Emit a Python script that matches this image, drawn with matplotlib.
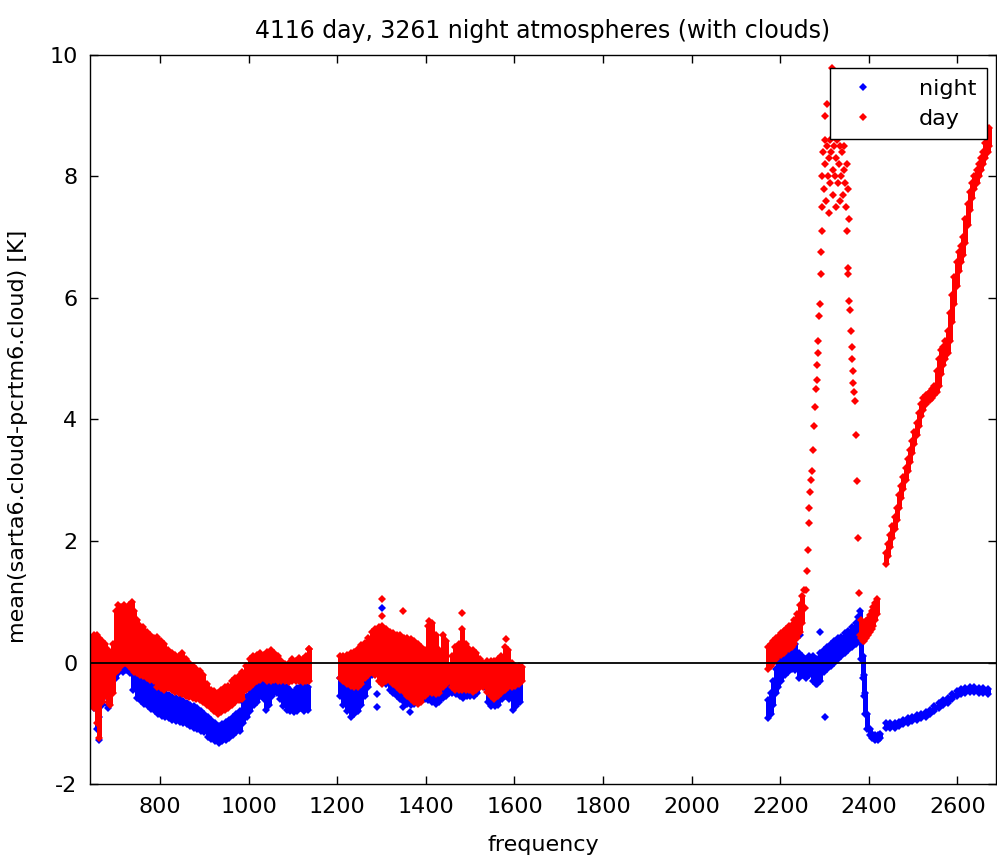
import numpy as np
import matplotlib.pyplot as plt

# AIRS channel groups: each column is (frequency, low, high) of the band of channel means
day_freq = [645, 652, 658, 663, 668, 675, 682, 688, 694, 700, 706, 712, 718, 724, 730, 736, 742, 748,
            755, 762, 770, 778, 786, 794, 802, 810, 818, 826, 834, 842, 850, 858, 866, 874, 882, 890,
            898, 906, 914, 922, 930, 938, 946, 954, 962, 970, 978, 986, 994, 1002, 1010, 1018, 1026,
            1034, 1042, 1050, 1058, 1066, 1074, 1082, 1090, 1098, 1106, 1114, 1122, 1130, 1136,
            1206, 1214, 1222, 1230, 1238, 1246, 1254, 1262, 1270, 1278, 1286, 1294, 1302, 1310, 1318,
            1326, 1334, 1342, 1350, 1358, 1366, 1374, 1382, 1390, 1398, 1406, 1414, 1422, 1430, 1438,
            1446, 1452, 1458, 1466, 1474, 1482, 1490, 1498, 1506, 1514, 1522, 1530, 1538, 1546, 1554,
            1562, 1570, 1578, 1586, 1594, 1602, 1610, 1616,
            2172, 2178, 2184, 2190, 2196, 2202, 2208, 2214, 2220, 2226, 2232, 2238, 2244, 2250,
            2382, 2386, 2390, 2394, 2398, 2402, 2406, 2410, 2414, 2418,
            2438, 2443, 2448, 2453, 2458, 2463, 2468, 2473, 2478, 2483, 2488, 2493, 2498, 2503, 2508,
            2513, 2518, 2523, 2528, 2533, 2538, 2543, 2548, 2553, 2558, 2563, 2568, 2573, 2578, 2583,
            2588, 2593, 2598, 2603, 2608, 2613, 2618, 2623, 2628, 2633, 2638, 2643, 2648, 2653, 2658,
            2663, 2668, 2672]
day_lo = [-0.70, -0.75, -1.00, -1.25, -0.65, -0.55, -0.65, -0.70, -0.50, -0.15, -0.12, -0.05, 0.00,
          0.00, -0.05, -0.10, -0.15, -0.18, -0.20, -0.22, -0.25, -0.28, -0.30, -0.40, -0.42, -0.45,
          -0.42, -0.45, -0.48, -0.50, -0.52, -0.55, -0.57, -0.58, -0.60, -0.62, -0.65, -0.70, -0.75,
          -0.80, -0.85, -0.82, -0.78, -0.75, -0.70, -0.65, -0.62, -0.60, -0.45, -0.40, -0.35, -0.30,
          -0.28, -0.25, -0.30, -0.30, -0.28, -0.30, -0.30, -0.30, -0.32, -0.30, -0.30, -0.30, -0.32,
          -0.30, -0.30,
          -0.25, -0.30, -0.35, -0.38, -0.40, -0.40, -0.35, -0.25, -0.20, -0.15, -0.20, -0.30, -0.35,
          -0.30, -0.30, -0.35, -0.40, -0.45, -0.48, -0.55, -0.60, -0.65, -0.68, -0.65, -0.55, -0.50,
          -0.50, -0.52, -0.50, -0.40, -0.35, -0.30, -0.40, -0.45, -0.45, -0.45, -0.45, -0.45, -0.48,
          -0.45, -0.40, -0.40, -0.48, -0.55, -0.60, -0.55, -0.50, -0.45, -0.40, -0.40, -0.38, -0.35,
          -0.30,
          -0.10, -0.05, 0.00, 0.05, 0.10, 0.12, 0.15, 0.20, 0.22, 0.25, 0.30, 0.40, 0.50, 0.65,
          0.40, 0.35, 0.35, 0.40, 0.45, 0.50, 0.55, 0.60, 0.70, 0.80,
          1.62, 1.75, 1.90, 2.05, 2.20, 2.35, 2.55, 2.70, 2.85, 3.00, 3.15, 3.30, 3.45, 3.60, 3.75,
          3.90, 4.05, 4.15, 4.25, 4.30, 4.32, 4.35, 4.40, 4.45, 4.55, 4.75, 4.90, 5.00, 5.10, 5.30,
          5.60, 5.90, 6.20, 6.45, 6.60, 6.70, 6.90, 7.20, 7.45, 7.65, 7.80, 7.90, 8.00, 8.10, 8.20,
          8.30, 8.40, 8.50]
day_hi = [0.40, 0.45, 0.45, 0.40, 0.36, 0.30, 0.20, 0.02, 0.30, 0.85, 0.95, 0.92, 0.95, 0.90, 0.95,
          0.99, 0.85, 0.70, 0.60, 0.58, 0.50, 0.45, 0.40, 0.42, 0.35, 0.30, 0.20, 0.15, 0.12, 0.10,
          0.16, 0.05, 0.00, -0.05, -0.10, -0.14, -0.20, -0.35, -0.45, -0.47, -0.50, -0.45, -0.40,
          -0.38, -0.30, -0.25, -0.22, -0.15, -0.05, 0.05, 0.10, 0.12, 0.15, 0.12, 0.18, 0.20, 0.15,
          0.10, 0.02, -0.02, 0.00, 0.05, 0.02, 0.08, 0.05, 0.10, 0.22,
          0.10, 0.10, 0.12, 0.15, 0.18, 0.22, 0.28, 0.32, 0.40, 0.50, 0.55, 0.58, 0.60, 0.55, 0.50,
          0.48, 0.45, 0.45, 0.40, 0.40, 0.38, 0.35, 0.30, 0.25, 0.20, 0.60, 0.65, 0.45, 0.20, 0.45,
          0.35, -0.05, 0.10, 0.25, 0.30, 0.55, 0.30, 0.22, 0.20, 0.15, 0.05, 0.00, 0.03, 0.02, 0.03,
          0.05, 0.10, 0.25, 0.20, 0.00, -0.05, -0.05, -0.08,
          0.25, 0.30, 0.35, 0.40, 0.42, 0.48, 0.52, 0.55, 0.60, 0.62, 0.70, 0.80, 0.95, 1.10,
          0.70, 0.60, 0.62, 0.68, 0.72, 0.78, 0.85, 0.92, 0.98, 1.05,
          1.80, 1.95, 2.10, 2.25, 2.40, 2.55, 2.75, 2.90, 3.05, 3.20, 3.35, 3.50, 3.65, 3.80, 3.95,
          4.10, 4.25, 4.35, 4.40, 4.42, 4.45, 4.50, 4.55, 4.80, 5.00, 5.15, 5.20, 5.30, 5.45, 5.75,
          6.05, 6.35, 6.60, 6.75, 6.85, 7.00, 7.30, 7.55, 7.75, 7.90, 8.00, 8.10, 8.20, 8.30, 8.40,
          8.55, 8.65, 8.80]

# single day channels standing apart from the bands
day_pt_freq = [1302, 1302, 1348, 1408, 1481, 1580, 1136,
               2254, 2256, 2258, 2260, 2262, 2264, 2266, 2268, 2270, 2272, 2274, 2276, 2278, 2280,
               2282, 2284, 2285, 2286, 2288, 2289, 2291, 2293, 2295,
               2295, 2295, 2297, 2299, 2300, 2302, 2304, 2305, 2307, 2309, 2310, 2312, 2313, 2315,
               2317, 2318, 2320, 2321, 2323, 2325, 2326, 2328, 2330, 2332, 2334, 2335, 2337, 2339,
               2341, 2343, 2345, 2347, 2349, 2351, 2353, 2355, 2300, 2306, 2322, 2338, 2346,
               2350, 2352, 2354, 2356, 2357, 2359, 2361, 2362, 2364, 2365, 2366, 2368, 2371, 2373,
               2375, 2377, 2380]
day_pt_val = [1.05, 0.77, 0.84, 0.69, 0.82, 0.38, 0.22,
              1.20, 0.90, 1.20, 1.50, 1.85, 2.30, 2.55, 2.80, 3.00, 3.15, 3.50, 3.90, 4.20, 4.50,
              4.65, 4.90, 5.10, 5.30, 5.70, 5.90, 6.40, 6.75, 7.10,
              7.50, 8.00, 8.40, 7.80, 8.60, 8.20, 7.60, 8.50, 8.00, 7.40, 8.30, 8.60, 7.90, 8.40,
              9.78, 8.10, 7.70, 8.50, 8.00, 7.50, 8.30, 8.60, 7.90, 8.20, 7.60, 8.50, 8.00, 8.40,
              7.70, 8.10, 8.50, 7.90, 7.50, 8.20, 7.80, 7.30, 9.00, 9.20, 9.40, 9.10, 8.90,
              7.10, 6.50, 6.40, 5.95, 5.80, 5.45, 5.20, 5.00, 4.80, 4.60, 4.45, 4.30, 3.75, 2.98,
              2.05, 1.15, 0.45]

night_freq = [645, 652, 658, 663, 668, 682, 700, 708, 716, 724, 732, 740, 748, 756, 764, 772, 780,
              788, 796, 804, 812, 820, 828, 836, 844, 852, 860, 868, 876, 884, 892, 900, 908, 916,
              924, 932, 940, 948, 956, 964, 972, 980, 988, 996, 1004, 1012, 1020, 1028, 1034, 1040,
              1046, 1052, 1058, 1064, 1070, 1078, 1086, 1094, 1102, 1110, 1118, 1126, 1134,
              1206, 1214, 1222, 1230, 1238, 1246, 1254, 1262, 1270, 1278, 1286, 1294, 1302, 1310,
              1318, 1326, 1334, 1342, 1350, 1358, 1366, 1374, 1382, 1390, 1398, 1406, 1414, 1422,
              1430, 1438, 1446, 1452, 1460, 1468, 1476, 1484, 1492, 1500, 1508, 1516, 1524, 1532,
              1540, 1548, 1556, 1564, 1572, 1580, 1588, 1596, 1604, 1612,
              2172, 2178, 2184, 2190, 2196, 2202, 2210, 2218, 2226, 2234, 2242, 2250, 2258, 2266,
              2274, 2282, 2290, 2298, 2306, 2314, 2322, 2330, 2338, 2346, 2354, 2362, 2370, 2376,
              2380, 2383, 2386, 2389, 2392, 2396, 2402, 2408, 2414, 2420, 2425,
              2438, 2448, 2458, 2468, 2478, 2488, 2498, 2508, 2518, 2528, 2538, 2548, 2558, 2568,
              2578, 2588, 2598, 2608, 2618, 2628, 2638, 2648, 2658, 2668]
night_lo = [-0.70, -0.75, -1.10, -1.28, -0.70, -0.75, -0.25, -0.15, -0.15, -0.12, -0.18, -0.45,
            -0.58, -0.63, -0.68, -0.72, -0.76, -0.80, -0.85, -0.88, -0.90, -0.92, -0.94, -0.96,
            -0.98, -1.00, -1.02, -1.05, -1.08, -1.10, -1.12, -1.15, -1.22, -1.26, -1.30, -1.32,
            -1.30, -1.28, -1.25, -1.20, -1.15, -1.12, -1.00, -0.90, -0.80, -0.70, -0.65, -0.55,
            -0.60, -0.78, -0.70, -0.55, -0.45, -0.50, -0.60, -0.72, -0.78, -0.80, -0.82, -0.80,
            -0.75, -0.80, -0.78,
            -0.55, -0.70, -0.80, -0.90, -0.85, -0.80, -0.70, -0.55, -0.40, -0.20, -0.15, -0.20,
            -0.25, -0.35, -0.45, -0.50, -0.55, -0.60, -0.65, -0.68, -0.70, -0.68, -0.65, -0.62,
            -0.60, -0.62, -0.65, -0.68, -0.65, -0.58, -0.55, -0.50, -0.50, -0.52, -0.55, -0.58,
            -0.55, -0.55, -0.55, -0.50, -0.35, -0.40, -0.65, -0.72, -0.72, -0.70, -0.60, -0.55,
            -0.60, -0.78, -0.72, -0.65,
            -0.92, -0.85, -0.70, -0.50, -0.40, -0.30, -0.20, -0.15, -0.10, -0.12, -0.25, -0.20,
            -0.25, -0.20, -0.30, -0.35, -0.30, -0.15, -0.10, -0.05, 0.00, 0.05, 0.10, 0.15, 0.20,
            0.25, 0.30, 0.45, 0.55, 0.05, -0.25, -0.55, -0.85, -1.10, -1.20, -1.25, -1.28, -1.28,
            -1.25,
            -1.08, -1.08, -1.07, -1.05, -1.02, -1.00, -0.97, -0.95, -0.92, -0.90, -0.85, -0.80,
            -0.75, -0.70, -0.66, -0.60, -0.55, -0.52, -0.50, -0.48, -0.48, -0.50, -0.50, -0.52]
night_hi = [0.25, 0.10, -0.40, -0.90, -0.60, -0.70, 0.10, 0.30, 0.25, 0.20, 0.15, -0.15, -0.20,
            -0.25, -0.28, -0.32, -0.35, -0.40, -0.42, -0.45, -0.50, -0.53, -0.56, -0.58, -0.60,
            -0.63, -0.66, -0.70, -0.72, -0.75, -0.80, -0.85, -0.90, -0.95, -1.00, -1.05, -1.02,
            -0.98, -0.95, -0.90, -0.85, -0.80, -0.65, -0.55, -0.45, -0.35, -0.25, -0.19, -0.25,
            -0.40, -0.30, -0.20, -0.19, -0.25, -0.30, -0.35, -0.40, -0.45, -0.48, -0.42, -0.38,
            -0.36, -0.40,
            -0.25, -0.28, -0.30, -0.30, -0.28, -0.28, -0.25, -0.15, -0.05, 0.05, 0.10, 0.05, 0.05,
            -0.05, -0.10, -0.15, -0.20, -0.25, -0.30, -0.35, -0.40, -0.40, -0.40, -0.38, -0.35,
            -0.35, -0.35, -0.35, -0.30, -0.30, -0.30, -0.20, -0.25, -0.25, -0.25, -0.25, -0.25,
            -0.25, -0.25, -0.20, -0.20, -0.20, -0.30, -0.35, -0.35, -0.35, -0.30, -0.25, -0.30,
            -0.35, -0.30, -0.25,
            -0.62, -0.50, -0.30, -0.10, 0.00, 0.05, 0.10, 0.20, 0.25, 0.30, 0.15, 0.10, 0.05,
            0.10, 0.10, 0.05, 0.15, 0.20, 0.25, 0.30, 0.35, 0.40, 0.42, 0.48, 0.52, 0.58, 0.65,
            0.75, 0.85, 0.50, 0.10, -0.20, -0.50, -0.85, -1.10, -1.18, -1.20, -1.20, -1.18,
            -1.00, -1.00, -1.00, -0.98, -0.95, -0.92, -0.90, -0.87, -0.85, -0.82, -0.78, -0.72,
            -0.66, -0.62, -0.58, -0.52, -0.47, -0.44, -0.42, -0.40, -0.40, -0.42, -0.42, -0.44]

night_pt_freq = [1290, 1290, 1302, 1348, 1365, 2245, 2290, 2280, 2301]
night_pt_val = [-0.52, -0.74, 0.90, -0.74, -0.82, 0.45, 0.50, -0.35, -0.90]

BLUE = (0, 0, 1)
RED = (1, 0, 0)


def draw_series(ax, freq, lo, hi, pf, pv, color, label):
    ax.vlines(freq, lo, hi, colors=[color], linewidth=3.6)
    ax.plot(freq, lo, 'D', color=color, ms=3.6, mew=0, ls='none')
    ax.plot(freq, hi, 'D', color=color, ms=3.6, mew=0, ls='none')
    h, = ax.plot(pf, pv, 'D', color=color, ms=3.6, mew=0, ls='none', label=label)
    return h


plt.rcParams['font.family'] = ['DejaVu Sans']
plt.rcParams['axes.unicode_minus'] = False
fig = plt.figure(figsize=(9.97, 8.59), dpi=100)
ax = fig.add_axes([0.0903, 0.0873, 0.9087, 0.8487])

h_night = draw_series(ax, night_freq, night_lo, night_hi, night_pt_freq, night_pt_val, BLUE, 'night')
h_day = draw_series(ax, day_freq, day_lo, day_hi, day_pt_freq, day_pt_val, RED, 'day')

ax.axhline(0, color='black', lw=1.3, zorder=3)

ax.set_xlim(642, 2687)
ax.set_ylim(-2, 10)
ax.set_xticks(np.arange(800, 2601, 200))
ax.set_yticks(np.arange(-2, 11, 2))
ax.tick_params(direction='in', top=True, right=True, labelsize=16, length=6, width=1, pad=9)
for s in ax.spines.values():
    s.set_linewidth(1)

ax.set_title('4116 day, 3261 night atmospheres (with clouds)', fontsize=17, pad=12)
ax.set_xlabel('frequency', fontsize=16, labelpad=13)
ax.set_ylabel('mean(sarta6.cloud-pcrtm6.cloud) [K]', fontsize=16)
ax.yaxis.set_label_coords(-0.068, 0.477)

leg = ax.legend(handles=[h_night, h_day], loc='upper right', bbox_to_anchor=(0.990, 0.982),
                fontsize=16, fancybox=False, frameon=True, edgecolor='black', markerscale=1.2,
                handlelength=2.0, borderpad=0.48, labelspacing=0.45, handletextpad=1.5,
                borderaxespad=0, framealpha=1)
leg.get_frame().set_linewidth(1)
leg.set_zorder(10)

fig.savefig('out.png', dpi=100)
